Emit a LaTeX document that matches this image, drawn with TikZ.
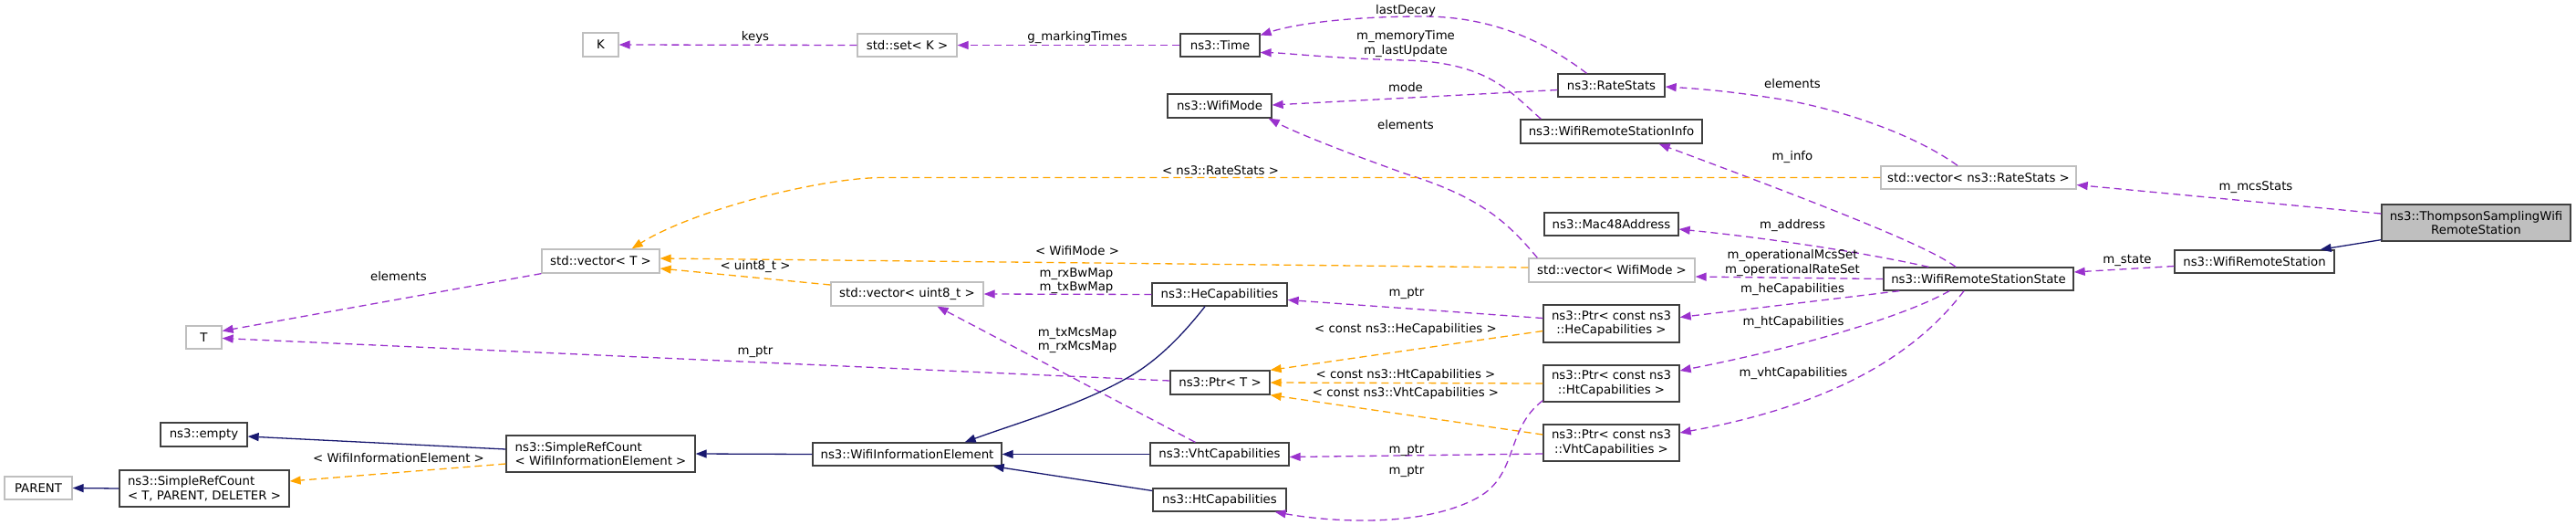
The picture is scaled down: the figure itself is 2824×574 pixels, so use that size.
\documentclass[tikz,border=0pt]{standalone}
\usepackage{fontspec}
\setmainfont{DejaVu Sans}
\usetikzlibrary{arrows.meta,calc}
\definecolor{purp}{HTML}{9A32CD}
\definecolor{orng}{HTML}{FFA500}
\definecolor{navy}{HTML}{191970}
\definecolor{gbord}{HTML}{BFBFBF}
\definecolor{dbord}{HTML}{404040}
\begin{document}
\begin{tikzpicture}[x=1pt,y=-1pt,
  font=\fontsize{13.3}{15.5}\selectfont,
  box/.style={draw=dbord, line width=1.3pt, inner sep=0pt, minimum height=25pt},
  gbox/.style={box, draw=gbord},
  tbox/.style={box, minimum height=40pt, align=center},
  lbox/.style={box, minimum height=40pt, align=left},
  pe/.style={draw=purp, line width=1.3pt, dash pattern=on 8pt off 5pt, -{Triangle[length=12pt,width=9pt]}},
  oe/.style={pe, draw=orng},
  ne/.style={draw=navy, line width=1.3pt, -{Triangle[length=12pt,width=9pt]}},
  lbl/.style={inner sep=0pt, align=center}]
\useasboundingbox (0,0) rectangle (2824,574);
% nodes
\node[gbox, minimum width=39pt, minimum height=26pt] (K) at (658.5,49) {K};
\node[gbox, minimum width=109pt] (set) at (994.5,49.5) {std::set< K >};
\node[box, minimum width=87pt] (Time) at (1337.5,49.5) {ns3::Time};
\node[box, minimum width=114pt, minimum height=26pt] (WM) at (1337,116) {ns3::WifiMode};
\node[box, minimum width=117pt] (RS) at (1766.5,93.5) {ns3::RateStats};
\node[box, minimum width=199pt, minimum height=26pt] (Info) at (1766.5,144) {ns3::WifiRemoteStationInfo};
\node[gbox, minimum width=214pt] (vecRS) at (2169,194.5) {std::vector< ns3::RateStats >};
\node[box, minimum width=147pt] (Mac) at (1766.5,245.5) {ns3::Mac48Address};
\node[gbox, minimum width=182pt, minimum height=26pt] (vecWM) at (1767,296) {std::vector< WifiMode >};
\node[box, minimum width=208pt] (State) at (2169,305.5) {ns3::WifiRemoteStationState};
\node[box, minimum width=175pt] (WRS) at (2471.5,286.5) {ns3::WifiRemoteStation};
\node[tbox, fill=gbord, minimum width=207pt] (Th) at (2714.5,244) {ns3::ThompsonSamplingWifi\\RemoteStation};
\node[tbox, minimum width=149pt, minimum height=41pt] (PtrHe) at (1766.5,354.5) {ns3::Ptr< const ns3\\::HeCapabilities >};
\node[tbox, minimum width=149pt] (PtrHt) at (1766.5,420) {ns3::Ptr< const ns3\\::HtCapabilities >};
\node[tbox, minimum width=149pt] (PtrVht) at (1766.5,485) {ns3::Ptr< const ns3\\::VhtCapabilities >};
\node[box, minimum width=148pt] (He) at (1337,322.5) {ns3::HeCapabilities};
\node[gbox, minimum width=167pt, minimum height=26pt] (vecU8) at (994.5,322) {std::vector< uint8\_t >};
\node[box, minimum width=109pt, minimum height=26pt] (PtrT) at (1337.5,419) {ns3::Ptr< T >};
\node[box, minimum width=207pt] (WIE) at (994.5,497.5) {ns3::WifiInformationElement};
\node[box, minimum width=152pt] (Vht) at (1337,497.5) {ns3::VhtCapabilities};
\node[box, minimum width=146pt] (Ht) at (1337,547.5) {ns3::HtCapabilities};
\node[gbox, minimum width=129pt, minimum height=26pt] (vecT) at (658.5,286) {std::vector< T >};
\node[gbox, minimum width=39pt] (T) at (223.5,369.5) {T};
\node[box, minimum width=95pt, minimum height=26pt] (empty) at (223.5,476) {ns3::empty};
\node[lbox, minimum width=207pt] (SRCwie) at (658.5,497) {ns3::SimpleRefCount\\< WifiInformationElement >};
\node[lbox, minimum width=186pt] (SRCtpd) at (224,535) {ns3::SimpleRefCount\\< T, PARENT, DELETER >};
\node[gbox, minimum width=74pt] (PARENT) at (42,534.5) {PARENT};
% edges
\draw[pe] (set.west) -- (K.east);
\draw[pe] (Time.west) -- (set.east);
\draw[pe] ($(RS.north)+(-27,0)$) .. controls (1680,35) and (1620,18) .. (1560,18) .. controls (1480,18) and (1420,26) .. ($(Time.east)+(0,-11)$);
\draw[pe] ($(Info.north west)+(23,0)$) .. controls (1655,100) and (1630,68) .. (1540,66) .. controls (1460,64) and (1410,58) .. ($(Time.east)+(0,8)$);
\draw[pe] ($(RS.west)+(0,5)$) -- ($(WM.east)+(0,-1)$);
\draw[pe] ($(vecWM.north west)+(10,0)$) .. controls (1650,240) and (1620,215) .. (1540,190) .. controls (1470,165) and (1420,145) .. ($(WM.south east)+(-4,0)$);
\draw[pe] ($(vecRS.north)+(-23,0)$) .. controls (2110,155) and (2040,125) .. (1960,110) .. controls (1900,100) and (1860,97) .. ($(RS.east)+(0,1.5)$);
\draw[pe] ($(State.north)+(-25,0)$) .. controls (2115,270) and (2000,225) .. ($(Info.south east)+(-48,0)$);
\draw[pe] ($(State.north west)+(50,0)$) .. controls (2050,278) and (1950,262) .. ($(Mac.east)+(0,5.5)$);
\draw[pe] (State.west) -- ($(vecWM.east)+(0,7)$);
\draw[pe] ($(State.south west)+(18,0)$) -- ($(PtrHe.east)+(0,-7)$);
\draw[pe] ($(State.south)+(-32,0)$) .. controls (2100,340) and (2000,375) .. ($(PtrHt.east)+(0,-14)$);
\draw[pe] ($(State.south)+(-16,0)$) .. controls (2110,375) and (2030,440) .. ($(PtrVht.east)+(0,-11)$);
\draw[pe] ($(WRS.west)+(0,5)$) -- ($(State.east)+(0,-7.5)$);
\draw[ne] ($(Th.south west)+(0,-2)$) -- ($(WRS.north east)+(-16,0)$);
\draw[pe] ($(Th.west)+(0,-10)$) -- ($(vecRS.east)+(0,8)$);
\draw[oe] (vecRS.west) -- (968,194.5) .. controls (900,194.5) and (760,230) .. ($(vecT.north east)+(-31,0)$);
\draw[oe] ($(vecWM.west)+(0,-3)$) -- ($(vecT.east)+(0,-3)$);
\draw[oe] ($(vecU8.west)+(0,-10)$) -- ($(vecT.east)+(0,8)$);
\draw[pe] (He.west) -- (vecU8.east);
\draw[pe] ($(Vht.north west)+(50,0)$) -- ($(vecU8.south)+(33,0)$);
\draw[pe] ($(PtrT.west)+(0,-2)$) -- ($(T.east)+(0,1)$);
\draw[pe] (vecT.south west) -- ($(T.east)+(0,-7)$);
\draw[pe] ($(PtrHe.west)+(0,-6)$) -- ($(He.east)+(0,6)$);
\draw[oe] ($(PtrHe.west)+(0,8)$) -- (PtrT.north east);
\draw[oe] (PtrHt.west) -- (PtrT.east);
\draw[oe] ($(PtrVht.west)+(0,-9)$) -- (PtrT.south east);
\draw[pe] ($(PtrVht.west)+(0,12)$) -- ($(Vht.east)+(0,3)$);
\draw[pe] ($(PtrHt.south west)+(0,-2)$) .. controls (1650,470) and (1665,520) .. (1620,545) .. controls (1560,578) and (1460,572) .. ($(Ht.south east)+(-13,0)$);
\draw[ne] ($(He.south)+(-16,0)$) .. controls (1290,375) and (1262,400) .. (1232,416) .. controls (1180,445) and (1110,465) .. ($(WIE.north east)+(-41,0)$);
\draw[ne] (Vht.west) -- (WIE.east);
\draw[ne] ($(Ht.west)+(0,-10)$) -- ($(WIE.south east)+(-10,0)$);
\draw[ne] (WIE.west) -- (SRCwie.east);
\draw[ne] ($(SRCwie.west)+(0,-5)$) -- ($(empty.east)+(0,2)$);
\draw[oe] ($(SRCwie.west)+(0,11)$) -- ($(SRCtpd.east)+(0,-8)$);
\draw[ne] (SRCtpd.west) -- (PARENT.east);
% labels
\node[lbl] (l1) at (828,41) {keys};
\node[lbl] (l2) at (1181,41) {g\_markingTimes};
\node[lbl] (l3) at (1541,12) {lastDecay};
\node[lbl] (l4) at (1541,48) {m\_memoryTime\\m\_lastUpdate};
\node[lbl] (l5) at (1541,96) {mode};
\node[lbl] (l6) at (1541,137) {elements};
\node[lbl] (l7) at (1965,92) {elements};
\node[lbl] (l8) at (1965,172) {m\_info};
\node[lbl] (l9) at (1965,247) {m\_address};
\node[lbl] (l10) at (1965,288) {m\_operationalMcsSet\\m\_operationalRateSet};
\node[lbl] (l11) at (1965,317) {m\_heCapabilities};
\node[lbl] (l12) at (1966,353) {m\_htCapabilities};
\node[lbl] (l13) at (1966,409) {m\_vhtCapabilities};
\node[lbl] (l14) at (2473,205) {m\_mcsStats};
\node[lbl] (l15) at (2332,285) {m\_state};
\node[lbl] (l16) at (1338,187) {< ns3::RateStats >};
\node[lbl] (l17) at (1181,275) {< WifiMode >};
\node[lbl] (l18) at (828,292) {< uint8\_t >};
\node[lbl] (l19) at (1180,307.5) {m\_rxBwMap\\m\_txBwMap};
\node[lbl] (l20) at (1181,372.5) {m\_txMcsMap\\m\_rxMcsMap};
\node[lbl] (l21) at (828,385) {m\_ptr};
\node[lbl] (l22) at (437,303) {elements};
\node[lbl] (l23) at (437,502) {< WifiInformationElement >};
\node[lbl] (l24) at (1542,321) {m\_ptr};
\node[lbl] (l25) at (1541,361) {< const ns3::HeCapabilities >};
\node[lbl] (l26) at (1541,411) {< const ns3::HtCapabilities >};
\node[lbl] (l27) at (1541,431) {< const ns3::VhtCapabilities >};
\node[lbl] (l28) at (1542,493) {m\_ptr};
\node[lbl] (l29) at (1542,516) {m\_ptr};
\end{tikzpicture}
\end{document}
